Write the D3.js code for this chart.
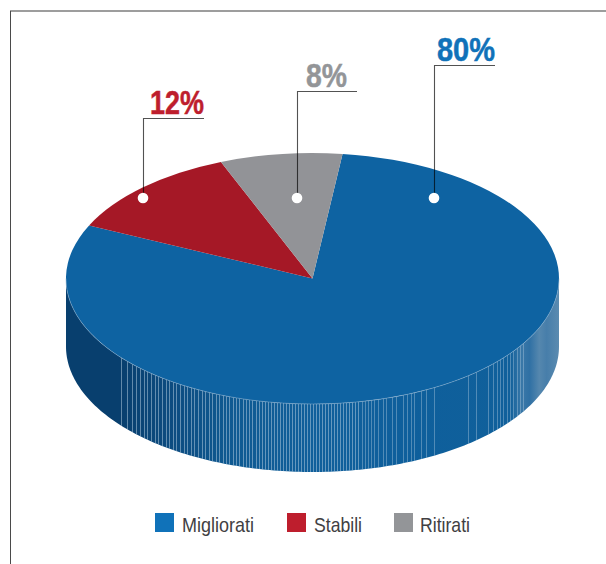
<!DOCTYPE html>
<html>
<head>
<meta charset="utf-8">
<script src="https://cdn.jsdelivr.net/npm/d3@7/dist/d3.min.js"></script>
<style>
html,body{margin:0;padding:0;background:#fff;}
svg{display:block;}
text{font-family:"Liberation Sans Narrow","Liberation Sans",sans-serif;}
</style>
</head>
<body>
<svg id="chart" width="606" height="564"></svg>
<script>
// Share of patients by outcome
const categories = ["Migliorati", "Stabili", "Ritirati"];
const shares = [80, 12, 8];
const shareLabels = ["80%", "12%", "8%"];
const topColors = ["#0e63a2", "#a51826", "#929397"];
const keyColors = ["#1072b9", "#be1e2d", "#939598"];

// Callout geometry, one entry per category
const calloutDotX = [434, 143, 297];
const calloutShelfY = [65, 118, 91];
const calloutShelfEnd = [495, 204, 357];
const calloutTextX = [437, 150, 306];
const calloutTextWidth = [58, 54, 41];

// Legend layout
const keyX = [155, 287, 394];
const keyTextX = [182, 314, 420];
const keyTextWidth = [72, 48, 50];

// Highlights on the rim of the disc
const rimHighlights = [121,127,132,136,140,144,147,151,155,158,162,166,169,173,176,180,184,187,191,194,198,
  202,205,209,212,216,219,223,226,229,233,236,239,243,246,249,252,256,259,262,265,268,271,274,277,280,283,
  286,289,292,295,298,301,304,307,310,313,316,319,322,325,328,331,334,337,340,343,346,349,352,355,358,
  362,365,368,371,374,378,383,386,392,396,403,407,411,414,421,426,434,468,476,488,493,497,500,503,507,510,513,517,520,523];

// Rim shading from left to right
const rimStops = [
  [0, "#083f6e"], [0.11, "#083f6e"], [0.2, "#0c4a7e"], [0.34, "#0f5a92"], [0.5, "#105f9b"],
  [0.68, "#0e5f9c"], [0.9, "#10609b"], [0.925, "#3a78a8"], [0.94, "#2f70a4"], [0.96, "#5587ae"], [0.975, "#477eaa"], [1, "#5b8bb0"]
];

const cx = 312.5, cy = 278.5, rx = 246.5, ry = 125.5, depth = 68;
const svg = d3.select("#chart");

// Frame on the top and left sides
svg.append("line").attr("x1", 10).attr("x2", 606).attr("y1", 11).attr("y2", 11)
  .attr("stroke", "#7d7d7d").attr("stroke-width", 1.6);
svg.append("line").attr("x1", 10.5).attr("x2", 10.5).attr("y1", 11).attr("y2", 564)
  .attr("stroke", "#4a4a4a").attr("stroke-width", 1);

// Rim of the disc: lower half of the ellipse extruded downward
const defs = svg.append("defs");
const grad = defs.append("linearGradient").attr("id", "rimShade")
  .attr("gradientUnits", "userSpaceOnUse")
  .attr("x1", cx - rx).attr("x2", cx + rx).attr("y1", 0).attr("y2", 0);
grad.selectAll("stop").data(rimStops).join("stop")
  .attr("offset", d => d[0]).attr("stop-color", d => d[1]);

const rimAngles = d3.range(0, 181, 1).map(d => d * Math.PI / 180);
const rimX = d3.scaleLinear().domain([-1, 1]).range([cx - rx, cx + rx]);
const rimY = d3.scaleLinear().domain([-1, 1]).range([cy - ry, cy + ry]);
const rimArea = d3.area()
  .x(a => rimX(Math.cos(a)))
  .y0(a => rimY(Math.sin(a)))
  .y1(a => rimY(Math.sin(a)) + depth);
const rimPath = rimArea(rimAngles);

defs.append("clipPath").attr("id", "rimClip").append("path").attr("d", rimPath);
svg.append("path").attr("d", rimPath).attr("fill", "url(#rimShade)");

const rimLines = svg.append("g").attr("clip-path", "url(#rimClip)");
rimLines.selectAll("line").data(rimHighlights).join("line")
  .attr("x1", d => d + 0.5).attr("x2", d => d + 0.5)
  .attr("y1", cy).attr("y2", cy + ry + depth)
  .attr("stroke", "#b4cde0").attr("stroke-width", 1)
  .attr("stroke-opacity", d => d < 360 ? 0.52 : 0.4);

// Top face of the disc, a pie squashed into an ellipse
const pie = d3.pie().sort(null)
  .startAngle(7 * Math.PI / 180)
  .endAngle(367 * Math.PI / 180);
const arc = d3.arc().innerRadius(0).outerRadius(rx);
const topFace = svg.append("g").attr("transform", `translate(${cx},${cy}) scale(1,${ry / rx})`);
topFace.selectAll("path").data(pie(shares)).join("path")
  .attr("d", arc)
  .attr("fill", (d, i) => topColors[i]);

// Thin light edge where the top face meets the rim
const edge = d3.line().x(a => rimX(Math.cos(a))).y(a => rimY(Math.sin(a)));
svg.append("path").attr("d", edge(rimAngles)).attr("fill", "none")
  .attr("stroke", "#8fb3d0").attr("stroke-width", 0.8).attr("stroke-opacity", 0.6);

// Callouts: leader, dot and value label
const dotY = 198;
const callouts = svg.append("g").selectAll("g").data(categories).join("g");
callouts.append("path")
  .attr("d", (d, i) => d3.line()([[calloutDotX[i] + 0.5, dotY], [calloutDotX[i] + 0.5, calloutShelfY[i] + 0.5], [calloutShelfEnd[i], calloutShelfY[i] + 0.5]]))
  .attr("fill", "none").attr("stroke", "#000").attr("stroke-opacity", 0.68).attr("stroke-width", 1.1);
callouts.append("circle")
  .attr("cx", (d, i) => calloutDotX[i]).attr("cy", dotY).attr("r", 5.3).attr("fill", "#fff");
callouts.append("text")
  .attr("x", (d, i) => calloutTextX[i])
  .attr("y", (d, i) => calloutShelfY[i] - 4)
  .attr("textLength", (d, i) => calloutTextWidth[i])
  .attr("lengthAdjust", "spacingAndGlyphs")
  .attr("font-size", 34).attr("font-weight", 700)
  .attr("fill", (d, i) => keyColors[i])
  .attr("stroke", (d, i) => keyColors[i]).attr("stroke-width", 0.5)
  .text((d, i) => shareLabels[i]);

// Legend
const legend = svg.append("g").selectAll("g").data(categories).join("g");
legend.append("rect")
  .attr("x", (d, i) => keyX[i]).attr("y", 513).attr("width", 19).attr("height", 19)
  .attr("fill", (d, i) => keyColors[i]);
legend.append("text")
  .attr("x", (d, i) => keyTextX[i]).attr("y", 531.5)
  .attr("textLength", (d, i) => keyTextWidth[i])
  .attr("lengthAdjust", "spacingAndGlyphs")
  .attr("font-size", 21).attr("fill", "#414042")
  .text(d => d);
</script>
</body>
</html>
